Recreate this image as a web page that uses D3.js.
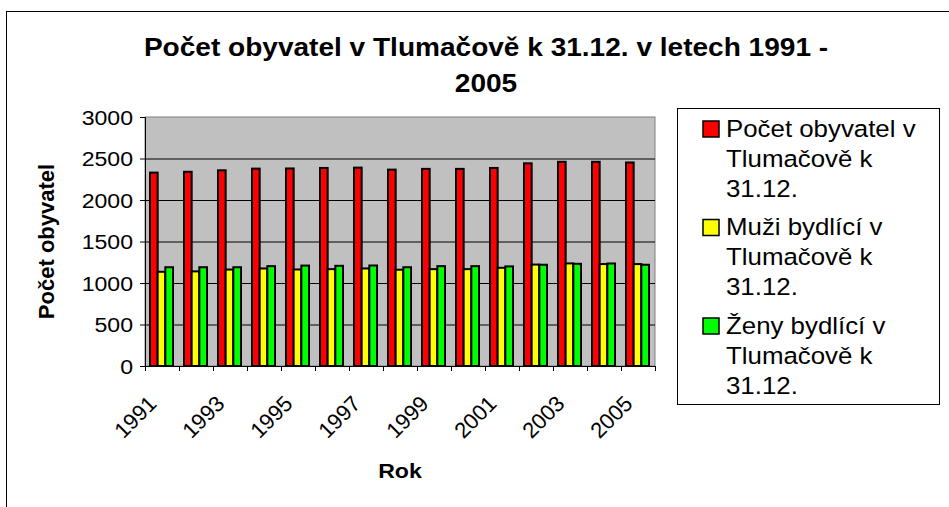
<!DOCTYPE html>
<html>
<head>
<meta charset="utf-8">
<title>Počet obyvatel v Tlumačově</title>
<script src="https://cdn.jsdelivr.net/npm/d3@7"></script>
<style>
    body { margin: 0; background: #fff; }
    svg { display: block; font-family: "Liberation Sans", Arial, sans-serif; }
</style>
</head>
<body>
<div id="chart"></div>
<script>
var years = ['1991', '1992', '1993', '1994', '1995', '1996', '1997', '1998', '1999', '2000', '2001', '2002', '2003', '2004', '2005'];
var total = [2330, 2340, 2358, 2378, 2380, 2386, 2390, 2366, 2375, 2375, 2386, 2442, 2460, 2460, 2452];
var men = [1135, 1140, 1162, 1175, 1163, 1167, 1175, 1160, 1167, 1167, 1183, 1222, 1236, 1228, 1228];
var women = [1190, 1190, 1190, 1203, 1210, 1207, 1211, 1190, 1203, 1203, 1200, 1220, 1231, 1235, 1220];
var seriesNames = ['Počet obyvatel v Tlumačově k 31.12.', 'Muži bydlící v Tlumačově k 31.12.', 'Ženy bydlící v Tlumačově k 31.12.'];
var legendLines = [
    ['Počet obyvatel v', 'Tlumačově k', '31.12.'],
    ['Muži bydlící v', 'Tlumačově k', '31.12.'],
    ['Ženy bydlící v', 'Tlumačově k', '31.12.']
];
var seriesColors = ['#ff0000', '#ffff00', '#00ff00'];
var yTicks = [0, 500, 1000, 1500, 2000, 2500, 3000];
var xLabelYears = ['1991', '1993', '1995', '1997', '1999', '2001', '2003', '2005'];

(function() {
    var W = 949, H = 507,
        plot = {left: 145, right: 655, top: 117, bottom: 366},
        series = [total, men, women],
        stretch = 1.1; // text in the original is a little wide

    var svg = d3.select('#chart').append('svg')
        .attr('width', W)
        .attr('height', H);

    // chart frame
    svg.append('rect')
        .attr('x', 6.5).attr('y', 11.5)
        .attr('width', W).attr('height', H)
        .attr('fill', '#fff')
        .attr('stroke', '#000')
        .attr('stroke-width', 1);

    // title
    svg.append('g')
        .attr('transform', 'translate(486,0) scale(' + stretch + ',1)')
        .append('text')
        .attr('text-anchor', 'middle')
        .attr('font-weight', 'bold')
        .attr('font-size', 25.5)
        .selectAll('tspan')
        .data(['Počet obyvatel v Tlumačově k 31.12. v letech 1991 -', '2005'])
        .enter().append('tspan')
        .attr('x', 0)
        .attr('y', function(d, i) { return 56 + i * 36; })
        .text(function(d) { return d; });

    var x0 = d3.scaleBand().domain(years).range([plot.left, plot.right]);
    var x1 = d3.scaleBand().domain([0, 1, 2]).range([5, 28]);
    var y = d3.scaleLinear().domain([0, 3000]).range([plot.bottom, plot.top]);

    // plot background
    svg.append('rect')
        .attr('x', plot.left).attr('y', plot.top)
        .attr('width', plot.right - plot.left)
        .attr('height', plot.bottom - plot.top)
        .attr('fill', '#c0c0c0')
        .attr('stroke', '#808080')
        .attr('stroke-width', 1);

    // gridlines
    svg.append('g')
        .attr('transform', 'translate(' + plot.left + ',0)')
        .call(d3.axisLeft(y).tickValues(yTicks.slice(1, -1)).tickSize(-(plot.right - plot.left)).tickFormat(''))
        .call(function(g) {
            g.select('.domain').remove();
            g.selectAll('line').attr('stroke', '#000');
        });

    // bars
    svg.append('g').selectAll('g')
        .data(years)
        .enter().append('g')
        .attr('transform', function(d) { return 'translate(' + x0(d) + ',0)'; })
        .selectAll('rect')
        .data(function(d, i) { return series.map(function(s, k) { return {k: k, v: s[i]}; }); })
        .enter().append('rect')
        .attr('x', function(d) { return x1(d.k); })
        .attr('width', x1.bandwidth())
        .attr('y', function(d) { return y(d.v); })
        .attr('height', function(d) { return y(0) - y(d.v); })
        .attr('fill', function(d) { return seriesColors[d.k]; })
        .attr('stroke', '#000')
        .attr('stroke-width', 2);

    // y axis
    var yAxis = svg.append('g')
        .attr('transform', 'translate(' + plot.left + ',0)')
        .call(d3.axisLeft(y).tickValues(yTicks).tickSize(5).tickFormat(''));
    yAxis.select('.domain').attr('stroke', '#000');
    yAxis.selectAll('.tick').append('g')
        .attr('transform', 'translate(-12,0) scale(' + stretch + ',1)')
        .append('text')
        .attr('text-anchor', 'end')
        .attr('dy', '0.35em')
        .attr('font-size', 21)
        .attr('font-family', '"Liberation Sans", Arial, sans-serif')
        .attr('fill', '#000')
        .text(function(d) { return d; });

    // x axis: ticks at category boundaries
    var xBound = d3.scaleLinear().domain([0, years.length]).range([plot.left, plot.right]);
    var xAxis = svg.append('g')
        .attr('transform', 'translate(0,' + plot.bottom + ')')
        .call(d3.axisBottom(xBound).tickValues(d3.range(years.length + 1)).tickSize(5).tickFormat(''));
    xAxis.select('.domain').attr('stroke', '#000');

    // x labels, rotated
    svg.append('g').selectAll('text')
        .data(xLabelYears)
        .enter().append('text')
        .attr('transform', function(d) {
            return 'translate(' + (x0(d) + x0.bandwidth() / 2 - 4) + ',' + 405 + ') rotate(-45)';
        })
        .attr('text-anchor', 'end')
        .attr('font-size', 22)
        .text(function(d) { return d; });

    // axis titles
    svg.append('text')
        .attr('transform', 'translate(54,' + ((plot.top + plot.bottom) / 2) + ') rotate(-90)')
        .attr('text-anchor', 'middle')
        .attr('font-weight', 'bold')
        .attr('font-size', 22)
        .text('Počet obyvatel');

    svg.append('g')
        .attr('transform', 'translate(' + ((plot.left + plot.right) / 2) + ',478) scale(' + stretch + ',1)')
        .append('text')
        .attr('text-anchor', 'middle')
        .attr('font-weight', 'bold')
        .attr('font-size', 21)
        .text('Rok');

    // legend
    var legend = svg.append('g');
    legend.append('rect')
        .attr('x', 677.5).attr('y', 108.5)
        .attr('width', 262).attr('height', 296)
        .attr('fill', '#fff')
        .attr('stroke', '#000')
        .attr('stroke-width', 1);

    var item = legend.selectAll('g.item')
        .data(legendLines)
        .enter().append('g')
        .attr('class', 'item')
        .attr('transform', function(d, i) { return 'translate(0,' + (i * 98.5) + ')'; });

    item.append('rect')
        .attr('x', 703).attr('y', 121)
        .attr('width', 16).attr('height', 16)
        .attr('fill', function(d, i) { return seriesColors[i]; })
        .attr('stroke', '#000')
        .attr('stroke-width', 1.5);

    item.append('g')
        .attr('transform', 'translate(726,0) scale(' + stretch + ',1)')
        .append('text')
        .attr('font-size', 23.5)
        .selectAll('tspan')
        .data(function(d) { return d; })
        .enter().append('tspan')
        .attr('x', 0)
        .attr('y', function(d, i) { return 137 + i * 30; })
        .text(function(d) { return d; });
})();
</script>
</body>
</html>
